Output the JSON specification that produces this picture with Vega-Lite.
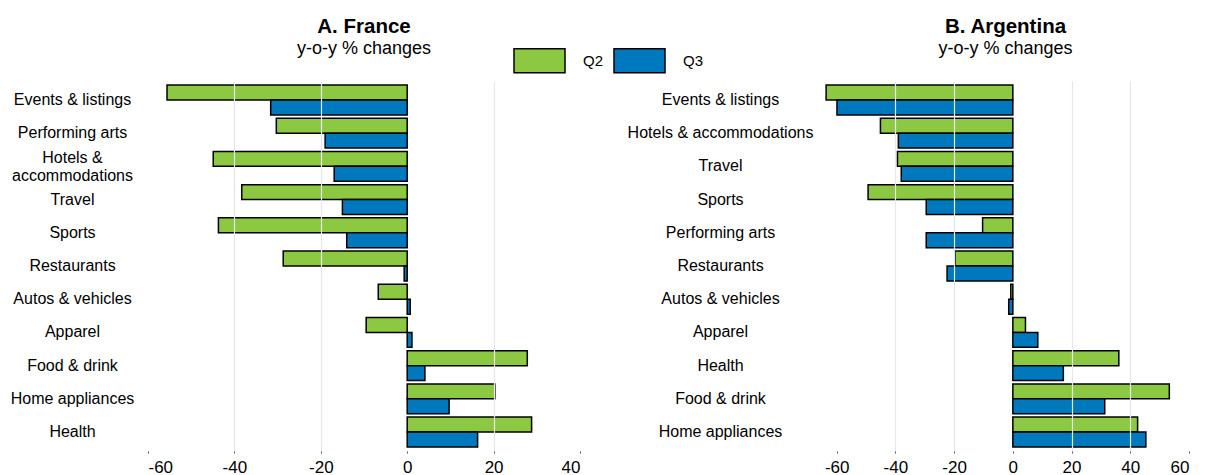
{
  "$schema": "https://vega.github.io/schema/vega-lite/v6.json",
  "background": "white",
  "padding": {"left": 10, "top": 16, "right": 5, "bottom": 5},
  "config": {
    "font": "Liberation Sans",
    "view": {"stroke": null},
    "concat": {"spacing": 46}
  },
  "datasets": {
    "fr": [
      {"cat": "Events & listings", "q": "Q2", "v": -55.6},
      {"cat": "Events & listings", "q": "Q3", "v": -31.6},
      {"cat": "Performing arts", "q": "Q2", "v": -30.3},
      {"cat": "Performing arts", "q": "Q3", "v": -19.0},
      {"cat": "Hotels & accommodations", "q": "Q2", "v": -44.9},
      {"cat": "Hotels & accommodations", "q": "Q3", "v": -16.9},
      {"cat": "Travel", "q": "Q2", "v": -38.3},
      {"cat": "Travel", "q": "Q3", "v": -15.0},
      {"cat": "Sports", "q": "Q2", "v": -43.7},
      {"cat": "Sports", "q": "Q3", "v": -14.0},
      {"cat": "Restaurants", "q": "Q2", "v": -28.7},
      {"cat": "Restaurants", "q": "Q3", "v": -0.7},
      {"cat": "Autos & vehicles", "q": "Q2", "v": -6.7},
      {"cat": "Autos & vehicles", "q": "Q3", "v": 0.7},
      {"cat": "Apparel", "q": "Q2", "v": -9.5},
      {"cat": "Apparel", "q": "Q3", "v": 1.1},
      {"cat": "Food & drink", "q": "Q2", "v": 27.8},
      {"cat": "Food & drink", "q": "Q3", "v": 4.1},
      {"cat": "Home appliances", "q": "Q2", "v": 20.3},
      {"cat": "Home appliances", "q": "Q3", "v": 9.7},
      {"cat": "Health", "q": "Q2", "v": 28.8},
      {"cat": "Health", "q": "Q3", "v": 16.3}
    ],
    "ar": [
      {"cat": "Events & listings", "q": "Q2", "v": -63.6},
      {"cat": "Events & listings", "q": "Q3", "v": -59.9},
      {"cat": "Hotels & accommodations", "q": "Q2", "v": -45.1},
      {"cat": "Hotels & accommodations", "q": "Q3", "v": -39.0},
      {"cat": "Travel", "q": "Q2", "v": -39.3},
      {"cat": "Travel", "q": "Q3", "v": -38.0},
      {"cat": "Sports", "q": "Q2", "v": -49.3},
      {"cat": "Sports", "q": "Q3", "v": -29.5},
      {"cat": "Performing arts", "q": "Q2", "v": -10.3},
      {"cat": "Performing arts", "q": "Q3", "v": -29.5},
      {"cat": "Restaurants", "q": "Q2", "v": -19.7},
      {"cat": "Restaurants", "q": "Q3", "v": -22.4},
      {"cat": "Autos & vehicles", "q": "Q2", "v": -0.7},
      {"cat": "Autos & vehicles", "q": "Q3", "v": -1.4},
      {"cat": "Apparel", "q": "Q2", "v": 4.3},
      {"cat": "Apparel", "q": "Q3", "v": 8.5},
      {"cat": "Health", "q": "Q2", "v": 36.1},
      {"cat": "Health", "q": "Q3", "v": 17.2},
      {"cat": "Food & drink", "q": "Q2", "v": 53.3},
      {"cat": "Food & drink", "q": "Q3", "v": 31.3},
      {"cat": "Home appliances", "q": "Q2", "v": 42.5},
      {"cat": "Home appliances", "q": "Q3", "v": 45.3}
    ]
  },
  "hconcat": [
    {
      "data": {"name": "fr"},
      "width": 432,
      "height": 370,
      "title": {"text": "A. France", "subtitle": "y-o-y % changes", "fontSize": 20.5, "subtitleFontSize": 18, "subtitlePadding": 3, "anchor": "middle", "offset": 23, "color": "black", "subtitleColor": "black"},
      "mark": {"type": "bar", "stroke": "black", "strokeWidth": 1.5},
      "encoding": {
        "y": {
          "field": "cat", "type": "nominal",
          "sort": ["Events & listings", "Performing arts", "Hotels & accommodations", "Travel", "Sports", "Restaurants", "Autos & vehicles", "Apparel", "Food & drink", "Home appliances", "Health"],
          "scale": {"paddingInner": 0.1, "paddingOuter": 0.12},
          "axis": {"title": null, "ticks": false, "domain": false, "labelAlign": "center", "labelBaseline": "middle", "labelPadding": 76, "labelFontSize": 16, "labelColor": "black", "labelLimit": 0,
            "labelOffset": {"condition": {"test": "datum.value == 'Hotels & accommodations'", "value": -8.5}, "value": 0},
            "labelExpr": "datum.value == 'Hotels & accommodations' ? ['Hotels &', 'accommodations'] : datum.label"}
        },
        "yOffset": {"field": "q", "sort": ["Q2", "Q3"]},
        "x": {
          "field": "v", "type": "quantitative",
          "scale": {"domain": [-60, 40], "nice": false},
          "axis": {"title": null, "values": [-60, -40, -20, 0, 20, 40], "domain": false, "grid": true, "gridColor": "#e6e6f2", "gridWidth": 1.2,
            "gridOpacity": {"condition": {"test": "datum.value == -60 || datum.value == 0 || datum.value == 40", "value": 0}, "value": 1},
            "zindex": 1, "tickSize": 2, "tickColor": "#555", "labelFontSize": 17, "labelColor": "black", "labelPadding": 6,
            "labelExpr": "replace(datum.label, '\u2212', '-')"}
        },
        "color": {
          "field": "q", "type": "nominal",
          "scale": {"domain": ["Q2", "Q3"], "range": ["#8cc841", "#0078be"]},
          "legend": {"title": null, "orient": "none", "legendX": 365, "legendY": -47, "direction": "horizontal",
            "symbolType": "M-1,-0.47H1V0.47H-1Z", "symbolSize": 2601, "symbolStrokeColor": "black", "symbolStrokeWidth": 1.5,
            "labelFontSize": 15, "labelColor": "black", "labelOffset": 17, "columnPadding": 7}
        }
      }
    },
    {
      "data": {"name": "ar"},
      "width": 367,
      "height": 370,
      "title": {"text": "B. Argentina", "subtitle": "y-o-y % changes", "fontSize": 20.5, "subtitleFontSize": 18, "subtitlePadding": 3, "anchor": "middle", "offset": 23, "color": "black", "subtitleColor": "black"},
      "mark": {"type": "bar", "stroke": "black", "strokeWidth": 1.5},
      "encoding": {
        "y": {
          "field": "cat", "type": "nominal",
          "sort": ["Events & listings", "Hotels & accommodations", "Travel", "Sports", "Performing arts", "Restaurants", "Autos & vehicles", "Apparel", "Health", "Food & drink", "Home appliances"],
          "scale": {"paddingInner": 0.1, "paddingOuter": 0.12},
          "axis": {"title": null, "ticks": false, "domain": false, "labelAlign": "center", "labelBaseline": "middle", "labelPadding": 102, "labelFontSize": 16, "labelColor": "black", "labelLimit": 0}
        },
        "yOffset": {"field": "q", "sort": ["Q2", "Q3"]},
        "x": {
          "field": "v", "type": "quantitative",
          "scale": {"domain": [-65, 60], "nice": false},
          "axis": {"title": null, "values": [-60, -40, -20, 0, 20, 40, 60], "domain": false, "grid": true, "gridColor": "#e6e6f2", "gridWidth": 1.2,
            "gridOpacity": {"condition": {"test": "datum.value == -60 || datum.value == 0 || datum.value == 60", "value": 0}, "value": 1},
            "zindex": 1, "tickSize": 2, "tickColor": "#555", "labelFontSize": 17, "labelColor": "black", "labelPadding": 6,
            "labelExpr": "replace(datum.label, '\u2212', '-')"}
        },
        "color": {
          "field": "q", "type": "nominal",
          "scale": {"domain": ["Q2", "Q3"], "range": ["#8cc841", "#0078be"]}
        }
      }
    }
  ],
  "resolve": {"scale": {"color": "shared"}}
}
